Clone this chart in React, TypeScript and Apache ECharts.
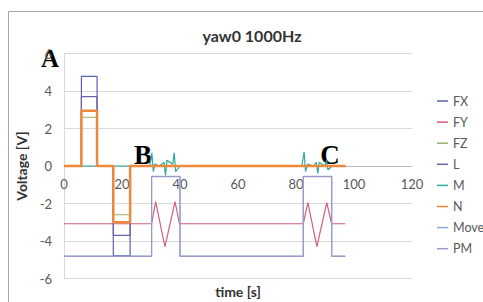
import React, { useEffect, useRef } from "react";
import * as echarts from "echarts";

// time points for the step channels (s)
const stepTimes = [0, 6, 6, 11.4, 11.4, 17, 17, 22.8, 22.8, 97];
const fxValues = [0, 0, 4.78, 4.78, 0, 0, -4.78, -4.78, 0, 0];
const fzValues = [0, 0, 2.6, 2.6, 0, 0, -2.6, -2.6, 0, 0];
const lValues = [0, 0, 3.7, 3.7, 0, 0, -3.7, -3.7, 0, 0];
const nValues = [0, 0, 2.95, 2.95, 0, 0, -3.0, -3.0, 0, 0];

const fyTimes = [0, 30.2, 31.6, 34.8, 38.3, 39.8, 82.5, 84.1, 87.2, 90.6, 92.3, 97];
const fyValues = [-3.08, -3.08, -1.9, -4.3, -1.9, -3.08, -3.08, -1.95, -4.3, -1.95, -3.08, -3.08];

const moveTimes = [0, 30.2, 30.2, 40, 40, 82.5, 82.5, 92.3, 92.3, 97];
const moveValues = [-4.8, -4.8, -0.55, -0.55, -4.8, -4.8, -0.55, -0.55, -4.8, -4.8];
const pmValues = [-4.82, -4.82, -0.57, -0.57, -4.82, -4.82, -0.57, -0.57, -4.82, -4.82];

const mTimes = [0, 29.5, 30.3, 30.8, 31.3, 33, 34.5, 35, 35.5, 37.5, 38, 38.5, 40, 82, 82.8, 83.3, 84, 86, 87, 87.5, 88, 90, 90.5, 91, 92.5, 97];
const mValues = [0, 0, 0.7, -0.3, 0.1, 0, 0.2, -0.5, 0.3, 0.1, 0.7, -0.3, 0, 0, 0.75, -0.3, 0.1, 0, 0.2, -0.4, 0.2, 0, 0.3, -0.2, 0, 0];

const xTicks = [0, 20, 40, 60, 80, 100, 120];
const yTicks = [-6, -4, -2, 0, 2, 4, 6];

const seriesNames = ["FX", "FY", "FZ", "L", "M", "N", "Move", "PM"];
const seriesColors = ["#5a62b0", "#d0607a", "#98b070", "#6a62a4", "#2fa8a0", "#f0883a", "#8fa8dc", "#9a9ac8"];

const zip = (t: number[], v: number[]) => t.map((x, i) => [x, v[i]]);

export default function App() {
  const ref = useRef<HTMLDivElement>(null);
  useEffect(() => {
    document.body.style.margin = "0";
    const chart = echarts.init(ref.current!, undefined, { renderer: "svg" });
    const data = [
      zip(stepTimes, fxValues),
      zip(fyTimes, fyValues),
      zip(stepTimes, fzValues),
      zip(stepTimes, lValues),
      zip(mTimes, mValues),
      zip(stepTimes, nValues),
      zip(moveTimes, moveValues),
      zip(moveTimes, pmValues),
    ];
    const font = "Lato";
    const gridTop = 53.5;
    const gridHeight = 225;
    // pixel offset that puts the x axis on y = 0
    const zeroOffset = -gridHeight * (0 - yTicks[0]) / (yTicks[yTicks.length - 1] - yTicks[0]);
    chart.setOption({
      animation: false,
      title: {
        text: "yaw0 1000Hz",
        left: 247,
        top: 22,
        textAlign: "center",
        textStyle: { fontFamily: font, fontSize: 16, fontWeight: "bold", color: "#333" },
      },
      legend: {
        orient: "vertical",
        left: 432,
        top: 89,
        icon: "rect",
        itemWidth: 11,
        itemHeight: 1.5,
        itemGap: 7.1,
        textStyle: { fontFamily: font, fontSize: 12.5, color: "#595959", lineHeight: 14 },
        data: seriesNames,
      },
      grid: { left: 64, top: gridTop, width: 348, height: gridHeight },
      xAxis: {
        type: "value",
        min: xTicks[0],
        max: xTicks[xTicks.length - 1],
        interval: 20,
        offset: zeroOffset,
        axisLine: { onZero: false, lineStyle: { color: "#bfbfbf" } },
        axisTick: { show: false },
        axisLabel: { margin: 11, color: "#595959", fontFamily: font, fontSize: 13 },
        splitLine: { show: false },
      },
      yAxis: {
        type: "value",
        min: yTicks[0],
        max: yTicks[yTicks.length - 1],
        interval: 2,
        name: "Voltage [V]",
        nameLocation: "middle",
        nameGap: 35,
        nameTextStyle: { fontFamily: font, fontSize: 14, fontWeight: "bold", color: "#333" },
        axisLine: { show: true, lineStyle: { color: "#d9d9d9" } },
        axisTick: { show: false },
        axisLabel: { margin: 12, color: "#595959", fontFamily: font, fontSize: 13 },
        splitLine: { lineStyle: { color: "#d9d9d9" } },
      },
      series: seriesNames.map((name, i) => ({
        name,
        type: "line",
        data: data[i],
        symbol: "none",
        color: seriesColors[i],
        lineStyle: { width: name === "N" ? 2.5 : 1.2, color: seriesColors[i] },
      })),
      graphic: [
        {
          type: "rect",
          shape: { x: 8.5, y: 11.5, width: 480, height: 300 },
          style: { fill: "none", stroke: "#a6a6a6", lineWidth: 1 },
          silent: true,
        },
        {
          type: "text",
          x: 238,
          y: 291,
          style: { text: "time [s]", font: `bold 14px ${font}`, fill: "#333", align: "center", verticalAlign: "middle" },
        },
        {
          type: "text",
          x: 50,
          y: 58,
          style: { text: "A", font: 'bold 25px "Liberation Serif"', fill: "#000", align: "center", verticalAlign: "middle" },
        },
        {
          type: "text",
          x: 143,
          y: 155,
          style: { text: "B", font: 'bold 27px "Liberation Serif"', fill: "#000", align: "center", verticalAlign: "middle" },
        },
        {
          type: "text",
          x: 330,
          y: 155,
          style: { text: "C", font: 'bold 27px "Liberation Serif"', fill: "#000", align: "center", verticalAlign: "middle" },
        },
      ],
    });
    return () => chart.dispose();
  }, []);
  return <div ref={ref} style={{ width: 483, height: 302, position: "absolute", left: 0, top: 0 }} />;
}
